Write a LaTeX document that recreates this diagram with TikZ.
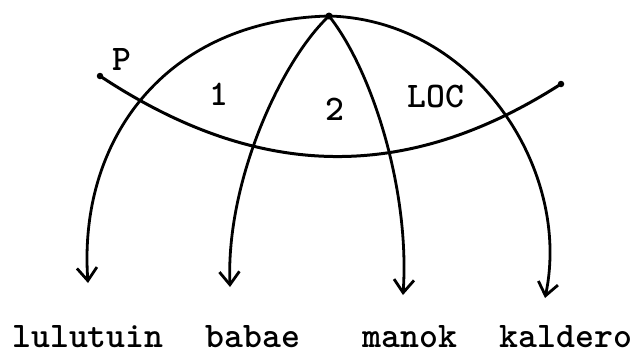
\documentclass[tikz,border=0pt]{standalone}
\usepackage{fontspec}
\usetikzlibrary{arrows.meta}
\tikzset{
  dot/.style={circle, fill=black, inner sep=0pt, minimum size=7pt},
  enddot/.style={circle, fill=black, inner sep=0pt, minimum size=6.5pt},
  word/.style={anchor=base, inner sep=0pt, font=\fontsize{36}{40}\selectfont\ttfamily\bfseries},
  branch/.style={line width=2.8pt, -{Straight Barb[length=13pt,width=20pt,line width=2.8pt]}},
  crossline/.style={line width=3pt},
}
\begin{document}
\begin{tikzpicture}[x=1pt,y=-1pt]
   \useasboundingbox (0,0) rectangle (635,354);
   \node[dot] (top) at (329,16) {};
   \node[enddot] (pl) at (100,76) {};
   \node[enddot] (pr) at (561,84) {};
   \coordinate (tip1) at (88,283);
   \coordinate (tip2) at (230,287);
   \coordinate (tip3) at (403,295);
   \coordinate (tip4) at (545,298);

   \draw[crossline] (pl.center) .. controls (260,182) and (408,182) .. (pr.center);
   \draw[branch] (top.center) .. controls (165,20) and (78,140) .. (tip1);
   \draw[branch] (top.center) .. controls (282,60) and (226,180) .. (tip2);
   \draw[branch] (top.center) .. controls (372,70) and (410,190) .. (tip3);
   \draw[branch] (top.center) .. controls (475,20) and (572,170) .. (tip4);

   \node[word] (lblp) at (122,70) {P};
   \node[word] (lbl1) at (219,105) {1};
   \node[word] (lbl2) at (335,120) {2};
   \node[word] (lblloc) at (436,107) {LOC};

   \node[word] (lulutuin) at (88,347) {lulutuin};
   \node[word] (babae) at (253,347) {babae};
   \node[word] (manok) at (410,347) {manok};
   \node[word] (kaldero) at (566,347) {kaldero};
\end{tikzpicture}
\end{document}
